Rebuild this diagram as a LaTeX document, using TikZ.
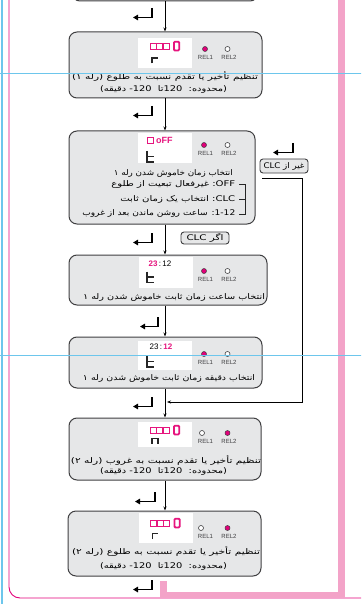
\documentclass[tikz,border=0pt]{standalone}
\usepackage{fontspec}
\usepackage{graphicx}
\setmainfont{Liberation Sans}
\newfontfamily\fa[Script=Arabic]{DejaVu Sans}
\TeXXeTstate=1
\newcommand\ksep{\kern0pt}
\newcommand\fitw[2]{\resizebox{#1pt}{\height}{#2}}
\usetikzlibrary{arrows.meta}
\definecolor{boxfill}{HTML}{E6E7E8}
\definecolor{boxline}{HTML}{3F3F41}
\definecolor{mag}{HTML}{E2007A}
\definecolor{pinkbar}{HTML}{F3A3C8}
\definecolor{guide}{HTML}{6DC6EC}
\definecolor{digit}{HTML}{E6157E}
\begin{document}
\begin{tikzpicture}[x=1pt,y=-1pt,
  box/.style={draw=boxline, fill=boxfill, rounded corners=8pt, line width=1pt, inner sep=0},
  disp/.style={fill=white, inner sep=0},
  tagbox/.style={draw=boxline, fill=boxfill, rounded corners=3pt, line width=0.9pt, inner sep=0},
  arr/.style={line width=0.7pt, -{Stealth[length=4pt,width=3pt]}},
  enter/.style={line width=1.4pt, -{Triangle[length=5pt,width=5.5pt]}},
  fatext/.style={font=\fa\fontsize{7.8}{8}\selectfont, inner sep=0},
  relon/.style={circle, draw=boxline, fill=mag, minimum size=5pt, inner sep=0, line width=0.5pt},
  reloff/.style={circle, draw=boxline, fill=white, minimum size=5pt, inner sep=0, line width=0.6pt},
  rellab/.style={font=\fontsize{6}{6}\selectfont, text=boxline, inner sep=0},
  seg/.style={line width=1.3pt, draw=black!85},
  cell/.style={draw=digit, line width=0.9pt},
  zero/.style={draw=digit, line width=1.8pt, rounded corners=1pt},
  dig/.style={font=\fontsize{8}{8}\selectfont, inner sep=0},
  brk/.style={line width=0.8pt, draw=black!85}]
\useasboundingbox (0,0) rectangle (361,604);
\clip (0,0) rectangle (361,604);

% magenta frame
\draw[mag, line width=0.9pt, rounded corners=11pt] (9,-20) -- (9,598) -- (380,598);

% boxes
\node[box, minimum width=186pt, minimum height=41pt] (b0) at (165,-19.5) {};
\node[box, minimum width=193pt, minimum height=66pt] (b1) at (165.5,65) {};
\node[box, minimum width=186pt, minimum height=93pt] (b2) at (162,177.5) {};
\node[box, minimum width=198pt, minimum height=50pt] (b3) at (168,280) {};
\node[box, minimum width=193pt, minimum height=51pt] (b4) at (165.5,362.5) {};
\node[box, minimum width=192pt, minimum height=62pt] (b5) at (165,449) {};
\node[box, minimum width=193pt, minimum height=65pt] (b6) at (164.5,543.5) {};

% displays
\node[disp, minimum width=54pt, minimum height=30pt] (d1) at (165,53) {};
\node[disp, minimum width=54pt, minimum height=30pt] (d2) at (165,148) {};
\node[disp, minimum width=54pt, minimum height=31pt] (d3) at (166,272.5) {};
\node[disp, minimum width=54pt, minimum height=29pt] (d4) at (165,355.5) {};
\node[disp, minimum width=54pt, minimum height=25pt] (d5) at (165,434.5) {};
\node[disp, minimum width=54pt, minimum height=30pt] (d6) at (166,528) {};

% display contents
\foreach \yy/\xx in {46/150, 430/150, 523/150.5} {
  \draw[cell] (\xx,\yy-3) rectangle ++(6,6);
  \draw[cell] (\xx+6.7,\yy-3) rectangle ++(6,6);
  \draw[cell] (\xx+13.4,\yy-3) rectangle ++(6,6);
  \draw[zero] (\xx+24,\yy-4.3) rectangle ++(5.2,8.8);
}
\draw[seg] (152,63.5) -- (152,58) -- (157.5,58);
\draw[seg] (152.5,539) -- (152.5,533.5) -- (158,533.5);
\draw[seg] (152,443.5) -- (152,438.5) -- (158,438.5) -- (158,443.5);
\foreach \yy in {151, 271.5, 356} {
  \draw[seg] (147,\yy) -- (147,\yy+11) -- (153.5,\yy+11);
  \draw[seg] (147,\yy+5.5) -- (153.5,\yy+5.5);
}
\draw[cell] (147.5,137.5) rectangle ++(5.5,5.5);
\node[dig, font=\bfseries\fontsize{9}{9}\selectfont, text=digit, anchor=west] (off) at (156,140.5) {oFF};
\node[dig, anchor=west] (t3) at (148.5,264) {{\bfseries\color{digit}23}\,:\,12};
\node[dig, anchor=west] (t4) at (149.5,347) {23\,:\,{\bfseries\color{digit}12}};

% relays
\foreach \n/\yy/\ya/\yb/\xa in {1/49/relon/reloff/205, 2/145/relon/reloff/204, 3/271/relon/reloff/204, 4/354/relon/reloff/204, 5/433/reloff/relon/202, 6/528/reloff/relon/201} {
  \node[\ya] (ra\n) at (\xa,\yy) {};
  \node[\yb] (rb\n) at (227.5,\yy) {};
  \node[rellab] (la\n) at (205.5,\yy+8.5) {REL1};
  \node[rellab] (lb\n) at (229,\yy+8.5) {REL2};
}

% texts
\node[fatext] (t1a) at (165,76) {\fitw{186}{\beginR تنظیم تأخیر یا تقدم نسبت به طلوع (\ksep رله ۱\ksep)\endR}};
\node[fatext] (t1b) at (163.5,89) {\fitw{127}{\beginR(\ksep محدوده\ksep:~~\beginL 120\endL\ksep تا~~\beginL 120-\endL{} دقیقه\ksep)\endR}};
\node[fatext, anchor=east] (t2a) at (233,173) {\fitw{119}{\beginR انتخاب زمان خاموش شدن رله ۱\endR}};
\node[fatext, anchor=east] (t2b) at (235.5,184) {\fitw{124}{\beginR\beginL OFF\endL\ksep: غیرفعال تبعیت از طلوع\endR}};
\node[fatext, anchor=east] (t2c) at (235.5,199) {\fitw{115}{\beginR\beginL CLC\endL\ksep: انتخاب یک زمان ثابت\endR}};
\node[fatext, anchor=east] (t2d) at (235.5,213) {\fitw{153}{\beginR\beginL 1-12\endL\ksep: ساعت روشن ماندن بعد از غروب\endR}};
\node[fatext] (t3a) at (174,297) {\fitw{182}{\beginR انتخاب ساعت زمان ثابت خاموش شدن رله ۱\endR}};
\node[fatext] (t4a) at (169,378) {\fitw{172}{\beginR انتخاب دقیقه زمان ثابت خاموش شدن رله ۱\endR}};
\node[fatext] (t5a) at (166,460) {\fitw{190}{\beginR تنظیم تأخیر یا تقدم نسبت به غروب (\ksep رله ۲\ksep)\endR}};
\node[fatext] (t5b) at (163.5,471) {\fitw{127}{\beginR(\ksep محدوده\ksep:~~\beginL 120\endL\ksep تا~~\beginL 120-\endL{} دقیقه\ksep)\endR}};
\node[fatext] (t6a) at (166,551) {\fitw{188}{\beginR تنظیم تأخیر یا تقدم نسبت به طلوع (\ksep رله ۲\ksep)\endR}};
\node[fatext] (t6b) at (163.5,566) {\fitw{127}{\beginR(\ksep محدوده\ksep:~~\beginL 120\endL\ksep تا~~\beginL 120-\endL{} دقیقه\ksep)\endR}};

% bracket
\draw[brk] (239,184) -- (245,184) -- (245,214) -- (239,214);
\draw[brk] (239,199) -- (245,199);

% tags
\node[tagbox, minimum width=48pt, minimum height=14pt, fatext] (g1) at (284,166) {\fitw{41}{\beginR غیر از \beginL CLC\endL\endR}};
\node[tagbox, minimum width=48pt, minimum height=12pt, fatext] (g2) at (205,238) {\fitw{37}{\beginR اگر \beginL CLC\endL\endR}};

% vertical connectors
\coordinate (ax) at (165,0);
\draw[arr] (ax |- b0.south) -- (ax |- b1.north);
\draw[arr] (ax |- b1.south) -- (ax |- b2.north);
\draw[arr] (ax |- b2.south) -- (ax |- b3.north);
\draw[arr] (ax |- b3.south) -- (ax |- b4.north);
\draw[arr] (ax |- b4.south) -- (ax |- b5.north);
\draw[arr] (ax |- b5.south) -- (ax |- b6.north);

% side connector
\coordinate (s1) at (262,178);
\coordinate (s2) at (302,178);
\coordinate (s3) at (302,402);
\coordinate (s4) at (167,402);
\draw[arr] (s1) -- (s2) -- (s3) -- (s4);

% enter symbols
\foreach \xx/\yy/\xl in {152/8/133, 152/106/133, 293/143/273, 152/233/133, 158/317/140, 152/397/133, 155/492/135, 152/580/133} {
  \draw[enter] (\xx,\yy) -- (\xx,\yy+9.5) -- (\xl,\yy+9.5);
}

% pink loop
\draw[pinkbar, line width=6.8pt] (163.5,581) -- (163.5,595) -- (341.7,595) -- (341.7,-10);

% guides
\draw[guide, line width=1.7pt] (1.8,-5) -- (1.8,610);
\draw[guide, line width=1.4pt] (-5,73.3) -- (370,73.3);
\draw[guide, line width=1.4pt] (-5,355.2) -- (370,355.2);
\end{tikzpicture}
\end{document}
